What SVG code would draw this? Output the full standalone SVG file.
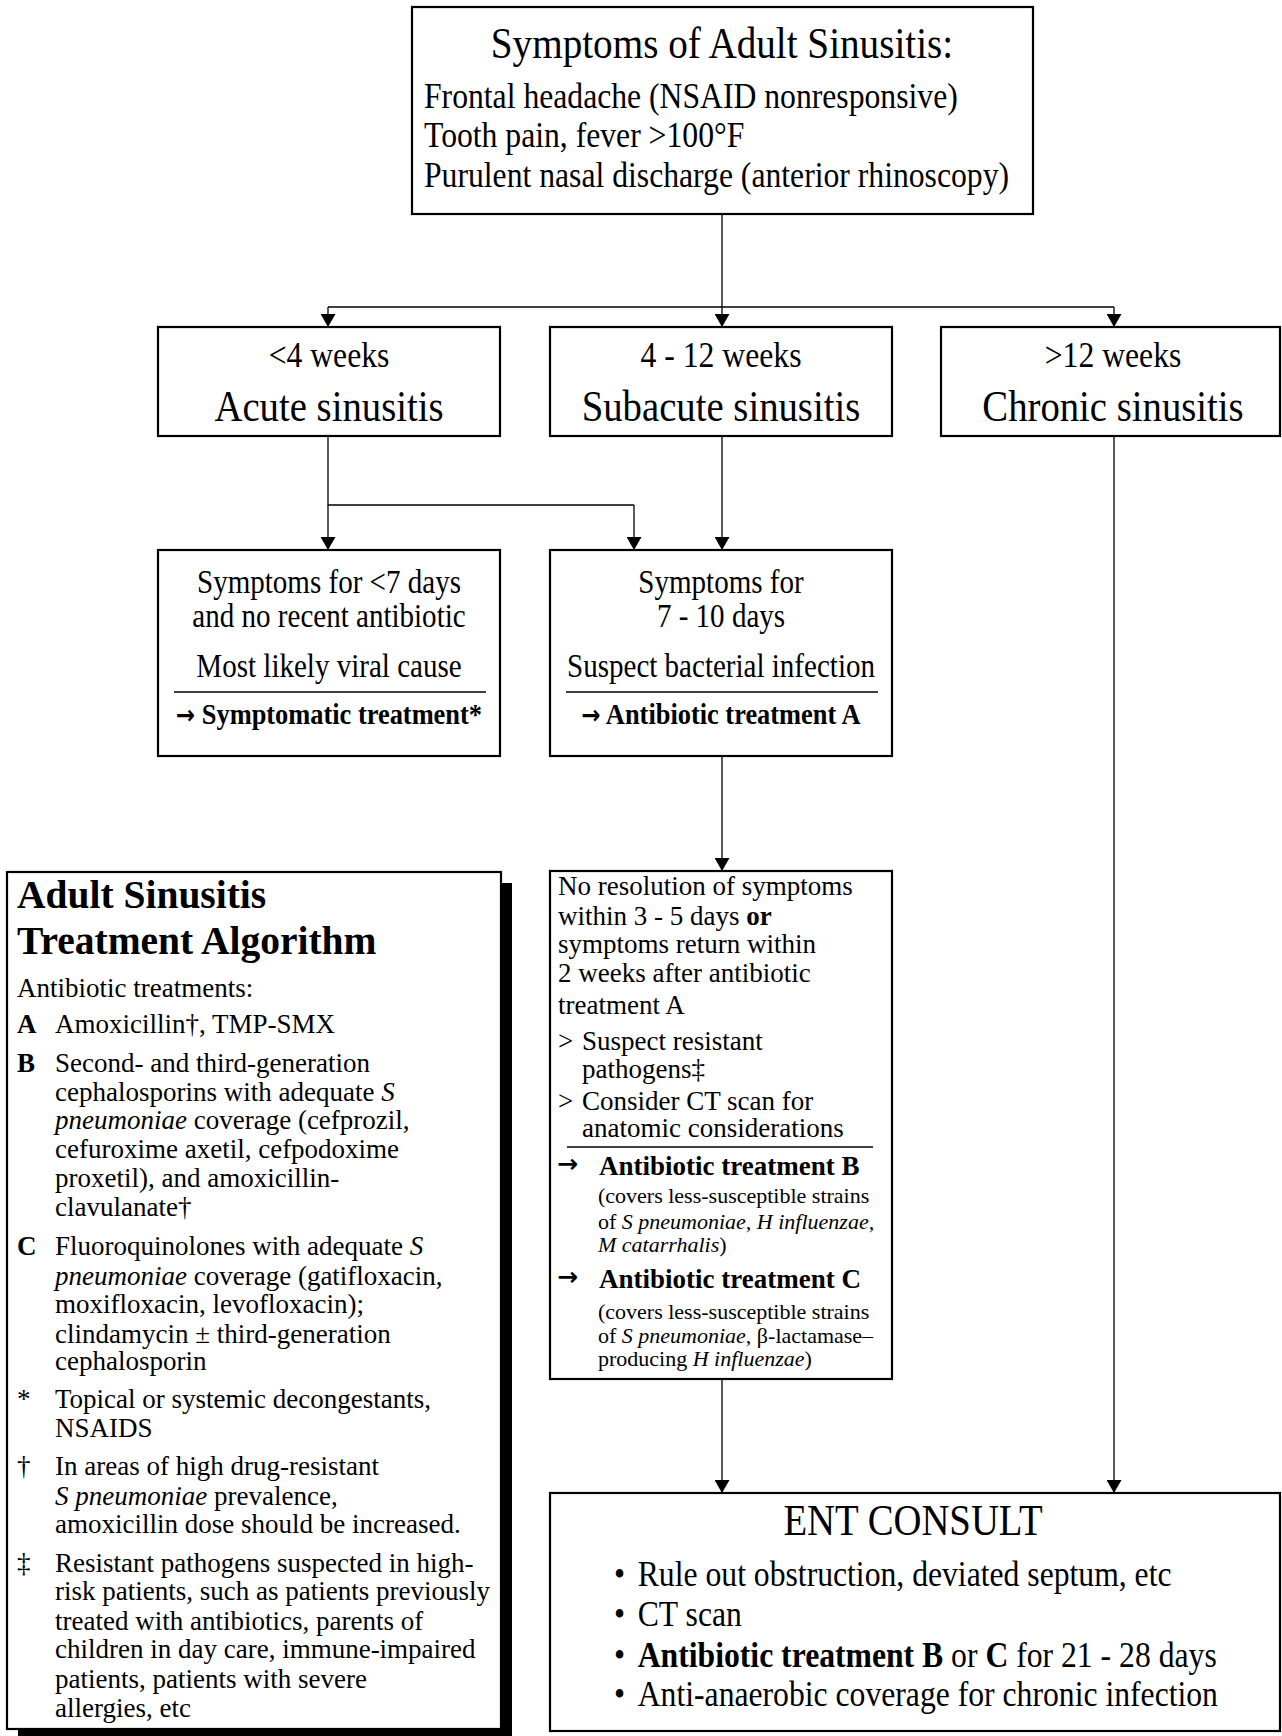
<svg xmlns="http://www.w3.org/2000/svg" width="1282" height="1736" viewBox="0 0 1282 1736">
<style>
.box{fill:#fff;stroke:#000;stroke-width:2.2}
.con{fill:none;stroke:#000;stroke-width:1.3}
.rule{stroke:#000;stroke-width:1.3}
text{font-family:"Liberation Serif","Times New Roman",serif;fill:#000}
.c{text-anchor:middle}
.b{font-weight:bold}
.i{font-style:italic}
.arr{font-family:"DejaVu Sans","Liberation Sans",sans-serif;font-weight:bold}
</style>
<defs>
<marker id="ah" markerUnits="userSpaceOnUse" viewBox="0 0 13 15" refX="13" refY="7.5" markerWidth="13" markerHeight="15" orient="auto">
<path d="M0,0 L13,7.5 L0,15 z" fill="#000"/>
</marker>
</defs>
<rect width="1282" height="1736" fill="#fff"/>

<g id="connectors">
<path class="con" d="M722,214 V307 M328,307 H1114"/>
<path class="con" d="M328,307 V327" marker-end="url(#ah)"/>
<path class="con" d="M722,307 V327" marker-end="url(#ah)"/>
<path class="con" d="M1114,307 V327" marker-end="url(#ah)"/>
<path class="con" d="M328,436 V505 H634"/>
<path class="con" d="M328,505 V550" marker-end="url(#ah)"/>
<path class="con" d="M634,505 V550" marker-end="url(#ah)"/>
<path class="con" d="M722,436 V550" marker-end="url(#ah)"/>
<path class="con" d="M722,756 V871" marker-end="url(#ah)"/>
<path class="con" d="M722,1379 V1493" marker-end="url(#ah)"/>
<path class="con" d="M1114,436 V1493" marker-end="url(#ah)"/>
</g>

<g id="symptoms">
<rect class="box" x="412" y="7" width="621" height="207"/>
<g transform="translate(722 0) scale(0.88 1)"><text class="c" x="0" y="58" font-size="44.5">Symptoms of Adult Sinusitis:</text></g>
<g transform="translate(424 0) scale(0.88 1)" font-size="36">
<text x="0" y="108">Frontal headache (NSAID nonresponsive)</text>
<text x="0" y="147">Tooth pain, fever &gt;100°F</text>
<text x="0" y="187">Purulent nasal discharge (anterior rhinoscopy)</text>
</g>
</g>

<g id="acute">
<rect class="box" x="158" y="327" width="342" height="109"/>
<g transform="translate(329 0) scale(0.88 1)">
<text class="c" x="0" y="367" font-size="36">&lt;4 weeks</text>
<text class="c" x="0" y="421" font-size="44">Acute sinusitis</text>
</g>
</g>

<g id="subacute">
<rect class="box" x="550" y="327" width="342" height="109"/>
<g transform="translate(721 0) scale(0.88 1)">
<text class="c" x="0" y="367" font-size="36">4 - 12 weeks</text>
<text class="c" x="0" y="421" font-size="44">Subacute sinusitis</text>
</g>
</g>

<g id="chronic">
<rect class="box" x="941" y="327" width="339" height="109"/>
<g transform="translate(1113 0) scale(0.88 1)">
<text class="c" x="0" y="367" font-size="36">&gt;12 weeks</text>
<text class="c" x="0" y="421" font-size="44">Chronic sinusitis</text>
</g>
</g>

<g id="viral">
<rect class="box" x="158" y="550" width="342" height="206"/>
<line class="rule" x1="174" y1="692" x2="486" y2="692"/>
<g transform="translate(329 0) scale(0.88 1)" font-size="33">
<text class="c" x="0" y="593">Symptoms for &lt;7 days</text>
<text class="c" x="0" y="627">and no recent antibiotic</text>
<text class="c" x="0" y="677">Most likely viral cause</text>
<text class="c b" x="0" y="724" font-size="30"><tspan class="arr" font-size="26">→</tspan> Symptomatic treatment*</text>
</g>
</g>

<g id="bacterial">
<rect class="box" x="550" y="550" width="342" height="206"/>
<line class="rule" x1="566" y1="692" x2="878" y2="692"/>
<g transform="translate(721 0) scale(0.88 1)" font-size="33">
<text class="c" x="0" y="593">Symptoms for</text>
<text class="c" x="0" y="627">7 - 10 days</text>
<text class="c" x="0" y="677">Suspect bacterial infection</text>
<text class="c b" x="0" y="724" font-size="30"><tspan class="arr" font-size="26">→</tspan> Antibiotic treatment A</text>
</g>
</g>

<g id="resistant" font-size="27">
<rect class="box" x="550" y="871" width="342" height="508"/>
<text x="558" y="895">No resolution of symptoms</text>
<text x="558" y="925">within 3 - 5 days <tspan class="b">or</tspan></text>
<text x="558" y="953">symptoms return within</text>
<text x="558" y="982">2 weeks after antibiotic</text>
<text x="558" y="1014">treatment A</text>
<text x="558" y="1050">&gt;</text>
<text x="582" y="1050">Suspect resistant</text>
<text x="582" y="1078">pathogens‡</text>
<text x="558" y="1110">&gt;</text>
<text x="582" y="1110">Consider CT scan for</text>
<text x="582" y="1137">anatomic considerations</text>
<line class="rule" x1="567" y1="1147" x2="873" y2="1147"/>
<text x="557" y="1172" class="arr" font-size="25">→</text>
<text x="599" y="1175" class="b">Antibiotic treatment B</text>
<g font-size="22">
<text x="598" y="1203">(covers less-susceptible strains</text>
<text x="598" y="1229">of <tspan class="i">S pneumoniae, H influenzae,</tspan></text>
<text x="598" y="1252"><tspan class="i">M catarrhalis</tspan>)</text>
</g>
<text x="557" y="1285" class="arr" font-size="25">→</text>
<text x="599" y="1288" class="b">Antibiotic treatment C</text>
<g font-size="22">
<text x="598" y="1319">(covers less-susceptible strains</text>
<text x="598" y="1343">of <tspan class="i">S pneumoniae</tspan>, β-lactamase–</text>
<text x="598" y="1366">producing <tspan class="i">H influenzae</tspan>)</text>
</g>
</g>

<g id="ent">
<rect class="box" x="550" y="1493" width="730" height="238"/>
<g transform="translate(913 0) scale(0.88 1)"><text class="c" x="0" y="1535" font-size="44">ENT CONSULT</text></g>
<g transform="translate(614 0) scale(0.88 1)" font-size="36">
<text x="0" y="1586">•</text><text x="27" y="1586">Rule out obstruction, deviated septum, etc</text>
<text x="0" y="1626">•</text><text x="27" y="1626">CT scan</text>
<text x="0" y="1667">•</text><text x="27" y="1667"><tspan class="b">Antibiotic treatment B</tspan> or <tspan class="b">C</tspan> for 21 - 28 days</text>
<text x="0" y="1706">•</text><text x="27" y="1706">Anti-anaerobic coverage for chronic infection</text>
</g>
</g>

<g id="legend" font-size="27">
<rect x="18" y="883" width="494" height="857" fill="#000"/>
<rect class="box" x="7" y="872" width="494" height="857"/>
<text x="17" y="908" class="b" font-size="39.5">Adult Sinusitis</text>
<text x="17" y="954" class="b" font-size="39.5">Treatment Algorithm</text>
<text x="17" y="997">Antibiotic treatments:</text>
<text x="17" y="1033" class="b">A</text>
<text x="55" y="1033">Amoxicillin†, TMP-SMX</text>
<text x="17" y="1072" class="b">B</text>
<text x="55" y="1072">Second- and third-generation</text>
<text x="55" y="1101">cephalosporins with adequate <tspan class="i">S</tspan></text>
<text x="55" y="1129"><tspan class="i">pneumoniae</tspan> coverage (cefprozil,</text>
<text x="55" y="1158">cefuroxime axetil, cefpodoxime</text>
<text x="55" y="1187">proxetil), and amoxicillin-</text>
<text x="55" y="1216">clavulanate†</text>
<text x="17" y="1255" class="b">C</text>
<text x="55" y="1255">Fluoroquinolones with adequate <tspan class="i">S</tspan></text>
<text x="55" y="1285"><tspan class="i">pneumoniae</tspan> coverage (gatifloxacin,</text>
<text x="55" y="1313">moxifloxacin, levofloxacin);</text>
<text x="55" y="1343">clindamycin ± third-generation</text>
<text x="55" y="1370">cephalosporin</text>
<text x="17" y="1408">*</text>
<text x="55" y="1408">Topical or systemic decongestants,</text>
<text x="55" y="1437">NSAIDS</text>
<text x="17" y="1475">†</text>
<text x="55" y="1475">In areas of high drug-resistant</text>
<text x="55" y="1505"><tspan class="i">S pneumoniae</tspan> prevalence,</text>
<text x="55" y="1533">amoxicillin dose should be increased.</text>
<text x="17" y="1572">‡</text>
<text x="55" y="1572">Resistant pathogens suspected in high-</text>
<text x="55" y="1600">risk patients, such as patients previously</text>
<text x="55" y="1630">treated with antibiotics, parents of</text>
<text x="55" y="1658">children in day care, immune-impaired</text>
<text x="55" y="1688">patients, patients with severe</text>
<text x="55" y="1717">allergies, etc</text>
</g>
</svg>
